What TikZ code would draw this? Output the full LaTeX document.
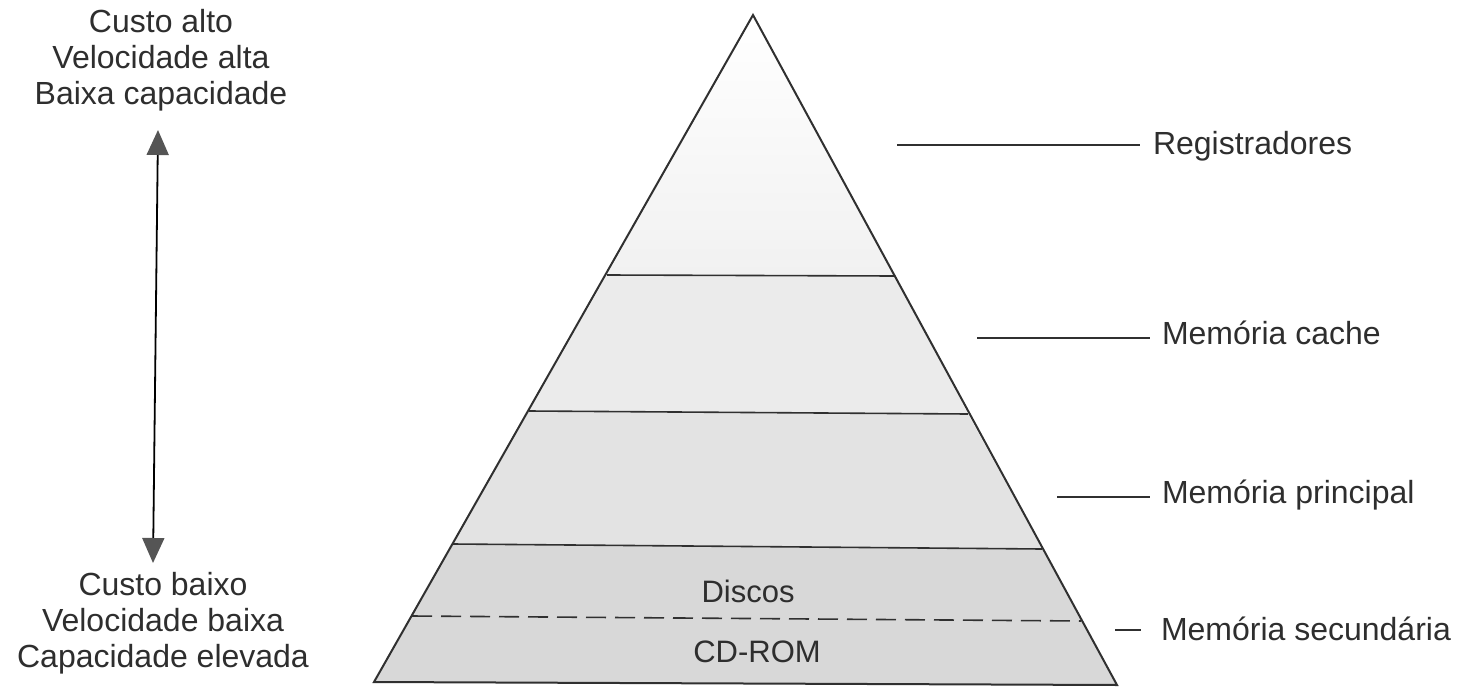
\documentclass[tikz,border=0pt]{standalone}
\usepackage{fontspec}
\setmainfont{Liberation Sans}
\usetikzlibrary{arrows.meta}
\definecolor{ink}{HTML}{2E2E2E}
\definecolor{edgecol}{HTML}{303030}
\definecolor{headgray}{HTML}{555555}
\definecolor{bandzero}{HTML}{F1F1F1}
\definecolor{bandone}{HTML}{EBEBEB}
\definecolor{bandtwo}{HTML}{E3E3E3}
\definecolor{bandthree}{HTML}{D8D8D8}
\tikzset{
  txt/.style={font=\fontsize{32}{36}\selectfont, text=ink, inner sep=0pt, outer sep=0pt},
  sidetxt/.style={txt, align=center, anchor=north},
  lbl/.style={txt, anchor=base west},
  lvltxt/.style={font=\fontsize{31}{36}\selectfont, text=ink, inner sep=0pt},
  edge/.style={draw=edgecol, line width=2pt, line join=miter},
  level/.style={draw=edgecol, line width=1.6pt},
  split/.style={draw=edgecol, line width=1.6pt, dash pattern=on 20pt off 9pt},
  tick/.style={draw=edgecol, line width=1.6pt},
  dblarrow/.style={draw=black, line width=1.8pt,
    {Triangle[width=22pt,length=25pt,color=headgray]}-{Triangle[width=22pt,length=25pt,color=headgray]}}
}
\begin{document}
\begin{tikzpicture}[x=1pt,y=-1pt]
\useasboundingbox (0,0) rectangle (1459,688);

% pyramid corners and the ends of the level lines
\coordinate (apex) at (753,15);
\coordinate (l1) at (607,275);  \coordinate (r1) at (895,276);
\coordinate (l2) at (529,411);  \coordinate (r2) at (968,414);
\coordinate (l3) at (453,544);  \coordinate (r3) at (1042,549);
\coordinate (ld) at (412,616);  \coordinate (rd) at (1081,621);
\coordinate (bl) at (374,682);  \coordinate (br) at (1117,685);

% shaded bands
\shade[top color=white, bottom color=bandzero] (apex) -- (r1) -- (l1) -- cycle;
\fill[bandone] (l1) -- (r1) -- (r2) -- (l2) -- cycle;
\fill[bandtwo] (l2) -- (r2) -- (r3) -- (l3) -- cycle;
\fill[bandthree] (l3) -- (r3) -- (br) -- (bl) -- cycle;

% outline and level separators
\draw[edge] (bl) -- (apex) -- (br) -- cycle;
\draw[level] (l1) -- (r1);
\draw[level] (l2) -- (r2);
\draw[level] (l3) -- (r3);
\draw[split] (ld) -- (rd);

\node[lvltxt] (discos) at (748,591) {Discos};
\node[lvltxt] (cdrom) at (757,652) {CD-ROM};

% level labels with their leader lines
\coordinate (reg0) at (897,145);
\coordinate (cache0) at (977,338);
\coordinate (princ0) at (1057,497);
\coordinate (sec0) at (1115,630);
\node[lbl] (reg) at (1153,154) {Registradores};
\node[lbl] (cache) at (1162,344) {Memória cache};
\node[lbl] (princ) at (1162,503) {Memória principal};
\node[lbl] (sec) at (1161,640) {Memória secundária};
\draw[tick, shorten >=13pt] (reg0) -- (reg0 -| reg.west);
\draw[tick, shorten >=12pt] (cache0) -- (cache0 -| cache.west);
\draw[tick, shorten >=12pt] (princ0) -- (princ0 -| princ.west);
\draw[tick, shorten >=20pt] (sec0) -- (sec0 -| sec.west);

% cost / speed / capacity scale
\node[sidetxt] (high) at (161,9) {Custo alto\\Velocidade alta\\Baixa capacidade};
\node[sidetxt] (low) at (163,572) {Custo baixo\\Velocidade baixa\\Capacidade elevada};
\coordinate (atop) at (158,130);
\coordinate (abot) at (153,563);
\draw[dblarrow] (atop) -- (abot);
\end{tikzpicture}
\end{document}
